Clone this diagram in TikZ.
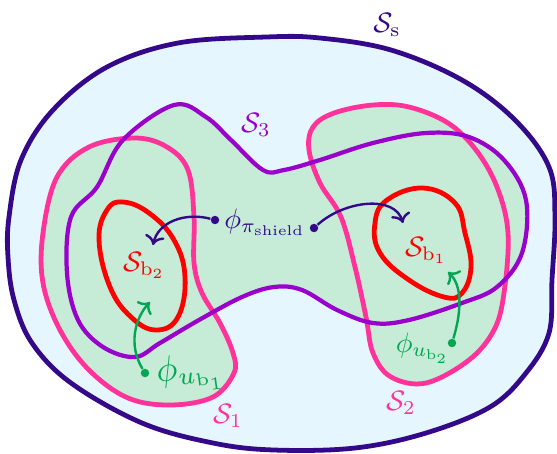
\documentclass[tikz,border=0pt]{standalone}
\usepackage{amsmath,amssymb}
\usepackage{xcolor}
\usetikzlibrary{arrows.meta}

\definecolor{sfill}{HTML}{E6F6FE}
\definecolor{sline}{HTML}{33098A}
\definecolor{gfill}{HTML}{C6EBD6}
\definecolor{pinkl}{HTML}{FF3399}
\definecolor{purpl}{HTML}{9900CC}
\definecolor{redl}{HTML}{FF0000}
\definecolor{greenl}{HTML}{00A651}

\begin{document}
\begin{tikzpicture}[
  x=0.0125cm, y=-0.0125cm,
  set/.style={line width=1.7pt, line join=round},
  dot/.style={circle, fill, inner sep=0pt, minimum size=3pt},
  arrow/.style={-{To[length=3.4pt,width=7pt]}, line width=0.85pt},
  lab/.style={inner sep=0pt}
]
\useasboundingbox (0,0) rectangle (557,453);
% safe set
\draw[set, sline, fill=sfill] plot[smooth cycle, tension=0.6] coordinates {
  (266,37) (320,38) (391,50) (462,80) (515,120) (549,167) (555,217) (552,280)
  (549,333) (526,373) (490,407) (426,433) (355,448) (274,450) (213,443)
  (142,423) (71,383) (32,343) (14,300) (8,257) (9,217) (21,160) (53,110)
  (107,67) (178,43)};
% green regions
\fill[gfill] plot[smooth cycle, tension=0.6] coordinates {
  (43,233) (57,177) (89,147) (135,138) (167,147) (188,170) (194,217) (194,263)
  (202,293) (220,323) (233,353) (234,373) (213,397) (171,405) (128,398)
  (89,370) (60,330) (43,283)};
\fill[gfill] plot[smooth cycle, tension=0.6] coordinates {
  (313,127) (334,113) (373,105) (409,107) (448,123) (476,150) (497,187)
  (508,233) (504,293) (494,330) (469,360) (426,383) (391,377) (373,353)
  (366,317) (355,267) (341,217) (320,183) (309,150)};
\fill[gfill] plot[smooth cycle, tension=0.6] coordinates {
  (174,105) (206,117) (231,140) (263,170) (284,170) (320,160) (373,143)
  (426,133) (469,137) (504,160) (526,200) (522,253) (497,287) (462,303)
  (409,320) (373,323) (337,310) (302,290) (274,287) (242,297) (199,320)
  (160,343) (135,357) (103,347) (78,320) (67,273) (71,217) (97,187)
  (123,140)};
% outlines
\draw[set, pinkl] plot[smooth cycle, tension=0.6] coordinates {
  (43,233) (57,177) (89,147) (135,138) (167,147) (188,170) (194,217) (194,263)
  (202,293) (220,323) (233,353) (234,373) (213,397) (171,405) (128,398)
  (89,370) (60,330) (43,283)};
\draw[set, pinkl] plot[smooth cycle, tension=0.6] coordinates {
  (313,127) (334,113) (373,105) (409,107) (448,123) (476,150) (497,187)
  (508,233) (504,293) (494,330) (469,360) (426,383) (391,377) (373,353)
  (366,317) (355,267) (341,217) (320,183) (309,150)};
\draw[set, purpl, line width=1.5pt] plot[smooth cycle, tension=0.6] coordinates {
  (174,105) (206,117) (231,140) (263,170) (284,170) (320,160) (373,143)
  (426,133) (469,137) (504,160) (526,200) (522,253) (497,287) (462,303)
  (409,320) (373,323) (337,310) (302,290) (274,287) (242,297) (199,320)
  (160,343) (135,357) (103,347) (78,320) (67,273) (71,217) (97,187)
  (123,140)};
\draw[set, redl] plot[smooth cycle, tension=0.7] coordinates {
  (123,202) (149,213) (174,240) (185,277) (178,317) (156,330) (131,317)
  (110,287) (99,240) (107,210)};
\draw[set, redl] plot[smooth cycle, tension=0.7] coordinates {
  (423,188) (455,203) (465,233) (471,267) (462,293) (444,297) (409,280)
  (380,253) (375,223) (387,200)};
% labels
\node[lab, text=sline] (Ss) at (387,25) {$\mathcal{S}_{\mathrm{s}}$};
\node[lab, text=purpl] (S3) at (256,125) {$\mathcal{S}_3$};
\node[lab, text=pinkl] (S1) at (228,416) {$\mathcal{S}_1$};
\node[lab, text=pinkl] (S2) at (401,403) {$\mathcal{S}_2$};
\node[lab, text=redl] (Sb2) at (144,265) {$\mathcal{S}_{\mathrm{b}_2}$};
\node[lab, text=redl] (Sb1) at (426,250) {$\mathcal{S}_{\mathrm{b}_1}$};
\node[lab, text=sline] (shield) at (265,222) {$\phi_{\pi_{\mathrm{shield}}}$};
\node[lab, text=greenl, scale=1.27, rotate=8] (ub1) at (191,373) {$\phi_{u_{\mathrm{b}_1}}$};
\node[lab, text=greenl] (ub2) at (423,348) {$\phi_{u_{\mathrm{b}_2}}$};
% arrows
\node[dot, sline] (dl) at (215,220) {};
\node[dot, sline] (dr) at (314,228) {};
\node[dot, greenl] (d1) at (145,373) {};
\node[dot, greenl] (d2) at (452,343) {};
\coordinate (tl) at (153,245);
\coordinate (tr) at (403,223);
\coordinate (t1) at (150,302);
\coordinate (t2) at (448,272);
\draw[arrow, sline] (dl) .. controls (185,212) and (158,222) .. (tl);
\draw[arrow, sline] (dr) .. controls (345,200) and (395,195) .. (tr);
\draw[arrow, greenl] (d1) .. controls (128,345) and (135,318) .. (t1);
\draw[arrow, greenl] (d2) .. controls (462,310) and (462,285) .. (t2);
\end{tikzpicture}
\end{document}
